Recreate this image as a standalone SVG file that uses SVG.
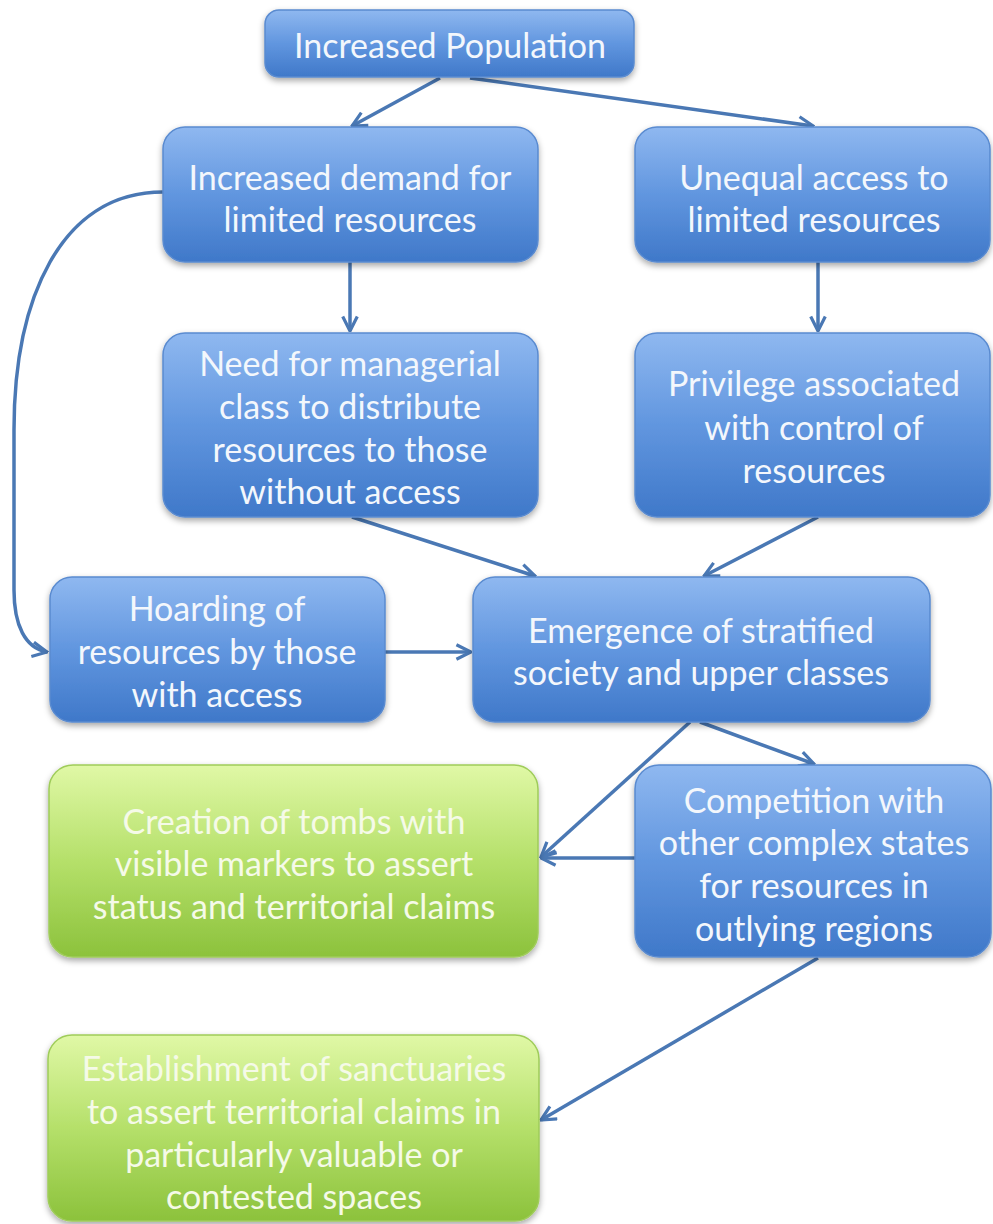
<svg xmlns="http://www.w3.org/2000/svg" width="993" height="1224" viewBox="0 0 993 1224">
<defs>
<linearGradient id="gb" x1="0" y1="0" x2="0" y2="1">
<stop offset="0" stop-color="#8fb8f0"/>
<stop offset="0.5" stop-color="#6196df"/>
<stop offset="1" stop-color="#3f78c9"/>
</linearGradient>
<linearGradient id="gg" x1="0" y1="0" x2="0" y2="1">
<stop offset="0" stop-color="#e0f8a6"/>
<stop offset="0.5" stop-color="#b5e06a"/>
<stop offset="1" stop-color="#8cc23c"/>
</linearGradient>
<filter id="sh" x="-10%" y="-10%" width="120%" height="130%">
<feDropShadow dx="0" dy="3" stdDeviation="3" flood-color="#000" flood-opacity="0.35"/>
</filter>
<marker id="ah" viewBox="0 0 12 12" refX="11" refY="6" markerWidth="5" markerHeight="5" orient="auto" markerUnits="strokeWidth">
<path d="M1,1 L11,6 L1,11" fill="none" stroke="#4a78b4" stroke-width="2.2" stroke-linejoin="miter"/>
</marker>
</defs>
<style>
.b{fill:url(#gb);stroke:#5a8bd0;stroke-width:1.5;filter:url(#sh)}
.g{fill:url(#gg);stroke:#9fcc5a;stroke-width:1.5;filter:url(#sh)}
text{font-family:Lato,"Open Sans","Liberation Sans",sans-serif;font-size:34px;fill:#f3f7fc;text-anchor:middle}
.gt text{fill:#f5fae8}
.c{fill:none;stroke:#4a78b4;stroke-width:3.5;marker-end:url(#ah)}
</style>
<g id="connectors">
<path class="c" d="M440,78 L352,126"/>
<path class="c" d="M470,78 L813,126"/>
<path class="c" d="M350,262 L350,331"/>
<path class="c" d="M818,262 L818,331"/>
<path class="c" d="M352,517 L535,576"/>
<path class="c" d="M818,517 L704,576"/>
<path class="c" d="M385,652 L471,652"/>
<path class="c" d="M163,192 C60,192 14,300 14,430 L14,590 C14,625 25,648 47,652"/>
<path class="c" d="M690,722 L541,857"/>
<path class="c" d="M635,858 L541,858"/>
<path class="c" d="M700,722 L814,764"/>
<path class="c" d="M818,958 L541,1120"/>
</g>
<g id="n1"><rect class="b" x="265" y="10" width="369" height="67" rx="14"/><text x="450" y="58">Increased Population</text></g>
<g id="n2"><rect class="b" x="163" y="127" width="375" height="135" rx="22"/><text x="350" y="190">Increased demand for</text><text x="350" y="232">limited resources</text></g>
<g id="n3"><rect class="b" x="635" y="127" width="355" height="135" rx="22"/><text x="814" y="190">Unequal access to</text><text x="814" y="232">limited resources</text></g>
<g id="n4"><rect class="b" x="163" y="333" width="375" height="184" rx="22"/><text x="350" y="376">Need for managerial</text><text x="350" y="419">class to distribute</text><text x="350" y="462">resources to those</text><text x="350" y="504">without access</text></g>
<g id="n5"><rect class="b" x="635" y="333" width="355" height="184" rx="22"/><text x="814" y="396">Privilege associated</text><text x="814" y="440">with control of</text><text x="814" y="483">resources</text></g>
<g id="n6"><rect class="b" x="50" y="577" width="335" height="145" rx="22"/><text x="217" y="621">Hoarding of</text><text x="217" y="664">resources by those</text><text x="217" y="707">with access</text></g>
<g id="n7"><rect class="b" x="473" y="577" width="457" height="145" rx="22"/><text x="701" y="643">Emergence of stratified</text><text x="701" y="685">society and upper classes</text></g>
<g id="n8" class="gt"><rect class="g" x="49" y="765" width="489" height="192" rx="24"/><text x="294" y="834">Creation of tombs with</text><text x="294" y="876">visible markers to assert</text><text x="294" y="919">status and territorial claims</text></g>
<g id="n9"><rect class="b" x="635" y="765" width="356" height="192" rx="24"/><text x="814" y="813">Competition with</text><text x="814" y="855">other complex states</text><text x="814" y="898">for resources in</text><text x="814" y="941">outlying regions</text></g>
<g id="n10" class="gt"><rect class="g" x="48" y="1035" width="491" height="186" rx="24"/><text x="294" y="1081">Establishment of sanctuaries</text><text x="294" y="1124">to assert territorial claims in</text><text x="294" y="1167">particularly valuable or</text><text x="294" y="1209">contested spaces</text></g>
</svg>
